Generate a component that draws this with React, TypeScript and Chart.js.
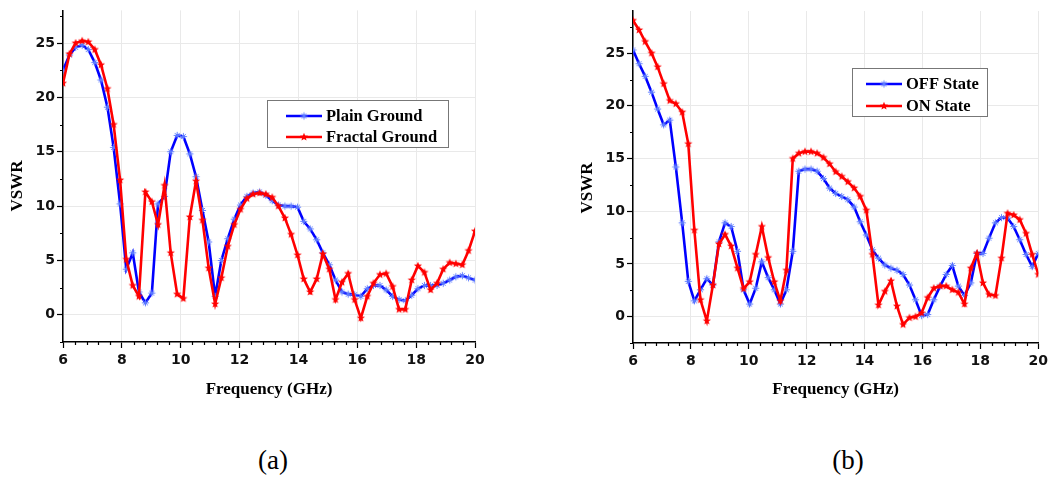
import React, { useEffect, useRef } from "react";
import { Chart, registerables } from "chart.js";

Chart.register(...registerables);

// ---- Panel (a): ground plane comparison ----
const FREQ_A = [
  6.0, 6.22, 6.43, 6.65, 6.86, 7.08, 7.29, 7.51, 7.72, 7.94, 8.15, 8.37, 8.58, 8.8, 9.02, 9.23, 9.45,
  9.66, 9.88, 10.09, 10.31, 10.52, 10.74, 10.95, 11.17, 11.38, 11.6, 11.82, 12.03, 12.25, 12.46, 12.68,
  12.89, 13.11, 13.32, 13.54, 13.75, 13.97, 14.18, 14.4, 14.62, 14.83, 15.05, 15.26, 15.48, 15.69, 15.91,
  16.12, 16.34, 16.55, 16.77, 16.98, 17.2, 17.42, 17.63, 17.85, 18.06, 18.28, 18.49, 18.71, 18.92, 19.14,
  19.35, 19.57, 19.78, 20.0,
];
const PLAIN_GROUND = [
  22.5, 23.9, 24.6, 24.8, 24.4, 23.2, 21.6, 19.1, 15.4, 10.2, 4.2, 5.7, 2.1, 1.1, 2.0, 10.2, 10.9,
  15.0, 16.5, 16.4, 14.8, 12.7, 9.6, 6.7, 1.7, 5.0, 7.0, 8.8, 10.1, 10.9, 11.2, 11.3,
  11.0, 10.5, 10.1, 10.0, 10.0, 9.9, 8.6, 7.9, 6.9, 5.7, 4.6, 3.2, 2.1, 1.9, 1.85,
  1.7, 2.4, 2.7, 2.7, 2.3, 1.7, 1.4, 1.3, 1.8, 2.4, 2.7, 2.7, 2.7, 2.9, 3.2,
  3.5, 3.6, 3.4, 3.2,
];
const FRACTAL_GROUND = [
  21.3, 24.0, 25.0, 25.2, 25.1, 24.4, 23.0, 20.8, 17.5, 12.4, 5.1, 2.7, 1.7, 11.3, 10.4, 8.3, 11.9,
  5.7, 1.9, 1.5, 9.0, 12.3, 8.7, 4.3, 1.0, 3.4, 6.3, 8.3, 9.7, 10.7, 11.1, 11.2,
  11.1, 10.8, 10.0, 8.9, 7.4, 5.5, 3.3, 2.1, 3.3, 5.6, 4.2, 1.4, 3.0, 3.8, 1.4,
  -0.3, 1.7, 2.9, 3.7, 3.8, 2.6, 0.5, 0.5, 3.2, 4.5, 3.9, 2.3, 2.9, 4.2, 4.8,
  4.7, 4.6, 5.9, 7.7,
];

// ---- Panel (b): switch states ----
const FREQ_B = [
  6.0, 6.21, 6.42, 6.64, 6.85, 7.06, 7.27, 7.48, 7.7, 7.91, 8.12, 8.33, 8.55, 8.76, 8.97, 9.18, 9.39,
  9.61, 9.82, 10.03, 10.24, 10.45, 10.67, 10.88, 11.09, 11.3, 11.52, 11.73, 11.94, 12.15, 12.36, 12.58,
  12.79, 13.0, 13.21, 13.42, 13.64, 13.85, 14.06, 14.27, 14.48, 14.7, 14.91, 15.12, 15.33, 15.55, 15.76,
  15.97, 16.18, 16.39, 16.61, 16.82, 17.03, 17.24, 17.45, 17.67, 17.88, 18.09, 18.3, 18.52, 18.73, 18.94,
  19.15, 19.36, 19.58, 19.79, 20.0,
];
const OFF_STATE = [
  25.3, 24.0, 22.8, 21.3, 19.7, 18.2, 18.65, 14.2, 8.9, 3.35, 1.5, 2.55, 3.6, 3.0, 7.1, 8.9, 8.55,
  6.2, 2.55, 1.2, 2.7, 5.2, 3.7, 2.55, 1.2, 2.55, 6.2, 13.8, 14.0, 14.0, 13.8, 13.1,
  12.2, 11.7, 11.4, 11.1, 10.4, 9.0, 7.75, 6.35, 5.55, 4.9, 4.6, 4.4, 4.0, 3.0, 1.6,
  0.1, 0.2, 1.6, 2.9, 4.0, 4.85, 2.9, 2.0, 3.2, 6.0, 6.0, 7.45, 8.9, 9.4, 9.35,
  8.55, 7.3, 5.9, 4.75, 6.0,
];
const ON_STATE = [
  28.1, 27.2, 26.1, 25.0, 23.7, 22.1, 20.5, 20.2, 19.4, 16.4, 8.2, 1.6, -0.4, 3.0, 6.9, 7.8, 6.7,
  4.6, 2.65, 3.3, 5.9, 8.55, 5.6, 3.3, 1.5, 4.4, 15.0, 15.5, 15.66, 15.66, 15.5, 15.1,
  14.5, 13.75, 13.3, 12.8, 12.2, 11.4, 10.1, 5.9, 1.1, 2.4, 3.4, 1.0, -0.75, -0.1, 0.0,
  0.35, 1.8, 2.7, 2.9, 2.9, 2.55, 2.3, 1.2, 4.6, 6.0, 3.2, 2.1, 2.0, 5.55, 9.8,
  9.65, 9.2, 7.9, 5.9, 4.0,
];

const LEGEND_A = ["Plain Ground", "Fractal Ground"];
const LEGEND_B = ["OFF State", "ON State"];
const PANEL_LABELS = ["(a)", "(b)"];
const X_TITLE = "Frequency (GHz)";
const Y_TITLE = "VSWR";

const BLUE = "#0000ff";
const RED = "#ff0000";
const SERIF = '"Liberation Serif", "Times New Roman", serif';
const SANS = '"DejaVu Sans", Arial, sans-serif';

function asteriskMarker(color: string, r: number): HTMLCanvasElement {
  const size = Math.ceil(r * 2 + 3);
  const c = document.createElement("canvas");
  c.width = size;
  c.height = size;
  const g = c.getContext("2d")!;
  const m = size / 2;
  g.strokeStyle = color;
  g.lineWidth = 1;
  g.beginPath();
  for (let i = 0; i < 4; i++) {
    const a = (i * Math.PI) / 4;
    g.moveTo(m - r * Math.cos(a), m - r * Math.sin(a));
    g.lineTo(m + r * Math.cos(a), m + r * Math.sin(a));
  }
  g.stroke();
  return c;
}

function starMarker(color: string, outer: number, inner: number): HTMLCanvasElement {
  const size = Math.ceil(outer * 2 + 3);
  const c = document.createElement("canvas");
  c.width = size;
  c.height = size;
  const g = c.getContext("2d")!;
  const m = size / 2;
  g.fillStyle = color;
  g.beginPath();
  for (let i = 0; i < 10; i++) {
    const rr = i % 2 === 0 ? outer : inner;
    const a = -Math.PI / 2 + (i * Math.PI) / 5;
    const px = m + rr * Math.cos(a);
    const py = m + rr * Math.sin(a);
    if (i === 0) g.moveTo(px, py);
    else g.lineTo(px, py);
  }
  g.closePath();
  g.fill();
  return c;
}

// Small secondary ticks along both axes.
const minorTicks = {
  id: "minorTicks",
  afterDraw(chart: any, _args: any, opts: any) {
    const { ctx, chartArea, scales } = chart;
    const xs = scales.x;
    const ys = scales.y;
    ctx.save();
    ctx.strokeStyle = "#000";
    ctx.lineWidth = 1.2;
    ctx.beginPath();
    const nx = Math.round((xs.max - xs.min) / opts.xStep);
    for (let i = 0; i <= nx; i++) {
      if (i % opts.xEvery === 0) continue;
      const px = Math.round(xs.getPixelForValue(xs.min + i * opts.xStep)) + 0.5;
      ctx.moveTo(px, chartArea.bottom);
      ctx.lineTo(px, chartArea.bottom + opts.len);
    }
    for (let v = opts.yStart; v <= ys.max + 1e-6; v += opts.yStep) {
      const py = Math.round(ys.getPixelForValue(v)) + 0.5;
      ctx.moveTo(chartArea.left, py);
      ctx.lineTo(chartArea.left - opts.len, py);
    }
    ctx.stroke();
    ctx.restore();
  },
};

// Rotated y-axis caption placed at a fixed spot beside the axis.
const yCaption = {
  id: "yCaption",
  afterDraw(chart: any, _args: any, opts: any) {
    const { ctx } = chart;
    ctx.save();
    ctx.translate(opts.x, opts.y);
    ctx.rotate(-Math.PI / 2);
    ctx.font = `bold ${opts.size}px ${SERIF}`;
    ctx.fillStyle = "#000";
    ctx.textAlign = "center";
    ctx.textBaseline = "middle";
    ctx.fillText(opts.text, 0, 0);
    ctx.restore();
  },
};

// Boxed legend with line-and-marker samples.
const boxLegend = {
  id: "boxLegend",
  afterDraw(chart: any, _args: any, opts: any) {
    const { ctx } = chart;
    ctx.save();
    ctx.fillStyle = "#fff";
    ctx.fillRect(opts.left, opts.top, opts.width, opts.height);
    ctx.strokeStyle = "#777";
    ctx.lineWidth = 1;
    ctx.strokeRect(opts.left + 0.5, opts.top + 0.5, opts.width, opts.height);
    opts.items.forEach((item: any, i: number) => {
      const ds = chart.data.datasets[item.dataset];
      const y = opts.rowY[i];
      ctx.strokeStyle = ds.borderColor;
      ctx.lineWidth = ds.borderWidth;
      ctx.beginPath();
      ctx.moveTo(opts.lineX0, y);
      ctx.lineTo(opts.lineX1, y);
      ctx.stroke();
      const img = ds.pointStyle as HTMLCanvasElement;
      const mx = (opts.lineX0 + opts.lineX1) / 2;
      ctx.drawImage(img, mx - img.width / 2, y - img.height / 2);
      ctx.fillStyle = "#000";
      ctx.font = `bold ${opts.fontSize}px ${SERIF}`;
      ctx.textBaseline = "middle";
      ctx.textAlign = "left";
      ctx.fillText(item.label, opts.textX, y + 1);
    });
    ctx.restore();
  },
};

interface PanelCfg {
  freq: number[];
  blue: number[];
  red: number[];
  labels: string[];
  yMax: number;
  width: number;
  height: number;
  padTop: number;
  padRight: number;
  yWidth: number;
  yCaption: { x: number; y: number };
  xHeight: number;
  xTitlePad: number;
  legend: any;
}

function Panel({ cfg, left }: { cfg: PanelCfg; left: number }) {
  const ref = useRef<HTMLCanvasElement | null>(null);

  useEffect(() => {
    if (!ref.current) return;
    const blueMarker = asteriskMarker("rgba(95,125,255,0.95)", 3.6);
    const redMarker = starMarker(RED, 4.3, 1.9);
    const tickFont = { family: SANS, size: 14, weight: "bold" as const };
    const titleFont = { family: SERIF, size: 17, weight: "bold" as const };

    const chart = new Chart(ref.current, {
      type: "line",
      data: {
        datasets: [
          {
            label: cfg.labels[0],
            data: cfg.freq.map((f, i) => ({ x: f, y: cfg.blue[i] })),
            borderColor: BLUE,
            borderWidth: 2.6,
            pointStyle: blueMarker as any,
            pointRadius: 4,
            order: 2,
            tension: 0,
          },
          {
            label: cfg.labels[1],
            data: cfg.freq.map((f, i) => ({ x: f, y: cfg.red[i] })),
            borderColor: RED,
            borderWidth: 2.6,
            pointStyle: redMarker as any,
            pointRadius: 4,
            order: 1,
            tension: 0,
          },
        ],
      },
      options: {
        responsive: false,
        maintainAspectRatio: false,
        animation: false,
        layout: { padding: { top: cfg.padTop, right: cfg.padRight, left: 0, bottom: 0 } },
        plugins: {
          legend: { display: false },
          tooltip: { enabled: false },
          minorTicks: { xStep: 0.4, xEvery: 5, yStart: -2.5, yStep: 5, len: 3 },
          yCaption: { text: Y_TITLE, size: 17, x: cfg.yCaption.x, y: cfg.yCaption.y },
          boxLegend: cfg.legend,
        } as any,
        scales: {
          x: {
            type: "linear",
            min: 6,
            max: 20,
            ticks: { stepSize: 2, font: tickFont, color: "#111", padding: 4, maxRotation: 0, autoSkip: false },
            grid: { color: "#e9e9e9", lineWidth: 1, tickColor: "#000", tickLength: 6, tickWidth: 1.2 },
            border: { color: "#000", width: 1.5 },
            title: { display: true, text: X_TITLE, font: titleFont, color: "#000", padding: { top: 0, bottom: cfg.xTitlePad } },
            afterFit: (s: any) => {
              s.height = cfg.xHeight;
            },
          },
          y: {
            type: "linear",
            min: -2.5,
            max: cfg.yMax,
            ticks: { stepSize: 5, includeBounds: false, font: tickFont, color: "#111", padding: 2 },
            grid: { color: "#e9e9e9", lineWidth: 1, tickColor: "#000", tickLength: 6, tickWidth: 1.2 },
            border: { color: "#000", width: 1.5 },
            title: { display: false },
            afterFit: (s: any) => {
              s.width = cfg.yWidth;
            },
          },
        },
      },
      plugins: [minorTicks, yCaption, boxLegend],
    });
    return () => chart.destroy();
  }, [cfg]);

  return (
    <canvas
      ref={ref}
      width={cfg.width}
      height={cfg.height}
      style={{ position: "absolute", left, top: 0, display: "block" }}
    />
  );
}

const PANEL_A: PanelCfg = {
  freq: FREQ_A,
  blue: PLAIN_GROUND,
  red: FRACTAL_GROUND,
  labels: LEGEND_A,
  yMax: 28,
  width: 490,
  height: 410,
  padTop: 10,
  padRight: 15,
  yWidth: 63,
  yCaption: { x: 18, y: 186 },
  xHeight: 68,
  xTitlePad: 10,
  legend: {
    left: 267,
    top: 100,
    width: 181,
    height: 47,
    lineX0: 286,
    lineX1: 322,
    textX: 326,
    rowY: [116, 137],
    fontSize: 16.5,
    items: [
      { dataset: 0, label: LEGEND_A[0] },
      { dataset: 1, label: LEGEND_A[1] },
    ],
  },
};

const PANEL_B: PanelCfg = {
  freq: FREQ_B,
  blue: OFF_STATE,
  red: ON_STATE,
  labels: LEGEND_B,
  yMax: 29,
  width: 492,
  height: 410,
  padTop: 11,
  padRight: 9,
  yWidth: 73,
  yCaption: { x: 28, y: 188 },
  xHeight: 67,
  xTitlePad: 10,
  legend: {
    left: 852 - 560,
    top: 68,
    width: 135,
    height: 48,
    lineX0: 866 - 560,
    lineX1: 902 - 560,
    textX: 906 - 560,
    rowY: [84, 106],
    fontSize: 16.5,
    items: [
      { dataset: 0, label: LEGEND_B[0] },
      { dataset: 1, label: LEGEND_B[1] },
    ],
  },
};

export default function App() {
  const captionStyle = (cx: number): React.CSSProperties => ({
    position: "absolute",
    left: cx - 50,
    top: 444,
    width: 100,
    textAlign: "center",
    fontFamily: SERIF,
    fontSize: 27,
    lineHeight: "32px",
    color: "#000",
  });
  return (
    <div style={{ position: "fixed", left: 0, top: 0, width: 1052, height: 477, background: "#fff", overflow: "hidden" }}>
      <Panel cfg={PANEL_A} left={0} />
      <Panel cfg={PANEL_B} left={560} />
      <div style={captionStyle(273)}>{PANEL_LABELS[0]}</div>
      <div style={captionStyle(848)}>{PANEL_LABELS[1]}</div>
    </div>
  );
}
